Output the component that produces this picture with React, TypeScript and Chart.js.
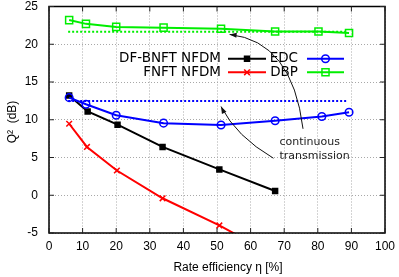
import React, { useEffect, useRef } from "react";
import { Chart, registerables } from "chart.js";
import { drawPoint } from "chart.js/helpers";

Chart.register(...registerables);

// ---- data ----
const dfX = [6, 11.5, 20.4, 33.8, 50.7, 67.3];
const dfY = [13.2, 11.1, 9.35, 6.4, 3.42, 0.57];
const fnftX = [6, 11.3, 20.2, 33.8, 50.7, 67.3];
const fnftY = [9.47, 6.4, 3.28, -0.4, -4.0, -8.0];
const edcX = [6, 11, 20, 34.1, 51.2, 67.3, 81.2, 89.3];
const edcY = [12.93, 12.05, 10.6, 9.55, 9.3, 9.87, 10.43, 11.0];
const dbpX = [6, 11, 20, 34.1, 51.2, 67.3, 80.2, 89.3];
const dbpY = [23.2, 22.7, 22.3, 22.2, 22.05, 21.7, 21.7, 21.5];
const contX = [5.7, 89];
const contEdcY = [12.5, 12.5];
const contDbpY = [21.66, 21.66];

const seriesLabels = ["DF-BNFT NFDM", "FNFT NFDM", "EDC", "DBP"];
const xTitle = "Rate efficiency η [%]";
const yTitle = "Q²  (dB)";
const noteLines = ["continuous", "transmission"];

const toPts = (xs: number[], ys: number[]) => xs.map((x, i) => ({ x, y: ys[i] }));

const BLACK = "#000000";
const RED = "#ff0000";
const BLUE = "#0000ff";
const GREEN = "#00ee00";

const markerDefs = [
  { color: BLACK, style: "rect", radius: 3.5, fill: BLACK },
  { color: RED, style: "crossRot", radius: 4, fill: "transparent" },
  { color: BLUE, style: "circle", radius: 3.8, fill: "transparent" },
  { color: GREEN, style: "rect", radius: 5, fill: "transparent" },
];

const framePlugin = {
  id: "frameAndNotes",
  afterDraw(chart: any) {
    const { ctx, chartArea: a, scales } = chart;
    const xs = scales.x;
    const ys = scales.y;
    ctx.save();
    // frame
    ctx.strokeStyle = "#000";
    ctx.lineWidth = 1.5;
    ctx.setLineDash([]);
    ctx.strokeRect(a.left, a.top, a.right - a.left, a.bottom - a.top);
    // inward ticks
    ctx.lineWidth = 1;
    ctx.strokeStyle = "#222";
    const tl = 5;
    xs.ticks.forEach((t: any) => {
      const px = xs.getPixelForValue(t.value);
      ctx.beginPath();
      ctx.moveTo(px, a.bottom);
      ctx.lineTo(px, a.bottom - tl);
      ctx.moveTo(px, a.top);
      ctx.lineTo(px, a.top + tl);
      ctx.stroke();
    });
    ys.ticks.forEach((t: any) => {
      const py = ys.getPixelForValue(t.value);
      ctx.beginPath();
      ctx.moveTo(a.left, py);
      ctx.lineTo(a.left + tl, py);
      ctx.moveTo(a.right, py);
      ctx.lineTo(a.right - tl, py);
      ctx.stroke();
    });

    // axis titles
    ctx.fillStyle = "#000";
    ctx.font = "12px 'Liberation Sans', Arial, sans-serif";
    ctx.textAlign = "center";
    ctx.textBaseline = "middle";
    ctx.fillText(xTitle, 228, 268);
    ctx.save();
    ctx.translate(13, 122);
    ctx.rotate(-Math.PI / 2);
    ctx.fillText(yTitle, 0, 0);
    ctx.restore();

    // legend (gnuplot style: two columns, text right-aligned before sample)
    ctx.font = "13.5px 'DejaVu Sans', sans-serif";
    ctx.textAlign = "right";
    ctx.textBaseline = "middle";
    const cols = [
      { textRight: 221, x0: 228, x1: 266 },
      { textRight: 298, x0: 307, x1: 344 },
    ];
    const rows = [58.7, 72.3];
    const order = [0, 2, 1, 3];
    order.forEach((si, k) => {
      const r = k < 2 ? 0 : 1;
      const c = k % 2;
      const col = cols[c];
      const y = rows[r];
      const m = markerDefs[si];
      ctx.fillStyle = "#000";
      ctx.fillText(seriesLabels[si], col.textRight, y);
      ctx.strokeStyle = m.color;
      ctx.lineWidth = 2;
      ctx.beginPath();
      ctx.moveTo(col.x0, y);
      ctx.lineTo(col.x1, y);
      ctx.stroke();
      ctx.fillStyle = m.fill;
      ctx.lineWidth = 1.5;
      drawPoint(ctx, { pointStyle: m.style, radius: m.radius, borderWidth: 1.5, rotation: 0 } as any, (col.x0 + col.x1) / 2, y);
    });

    // annotation arrows (data coords)
    const arrow = (sx: number, sy: number, cx: number, cy: number, tx: number, ty: number) => {
      const p0 = [xs.getPixelForValue(sx), ys.getPixelForValue(sy)];
      const pc = [xs.getPixelForValue(cx), ys.getPixelForValue(cy)];
      const p1 = [xs.getPixelForValue(tx), ys.getPixelForValue(ty)];
      ctx.strokeStyle = "#111";
      ctx.fillStyle = "#111";
      ctx.lineWidth = 1;
      ctx.beginPath();
      ctx.moveTo(p0[0], p0[1]);
      ctx.quadraticCurveTo(pc[0], pc[1], p1[0], p1[1]);
      ctx.stroke();
      const ang = Math.atan2(p1[1] - pc[1], p1[0] - pc[0]);
      const L = 7;
      const W = 2.5;
      ctx.beginPath();
      ctx.moveTo(p1[0], p1[1]);
      ctx.lineTo(p1[0] - L * Math.cos(ang) + W * Math.sin(ang), p1[1] - L * Math.sin(ang) - W * Math.cos(ang));
      ctx.lineTo(p1[0] - L * Math.cos(ang) - W * Math.sin(ang), p1[1] - L * Math.sin(ang) + W * Math.cos(ang));
      ctx.closePath();
      ctx.fill();
    };
    arrow(75.6, 8.8, 72.4, 20.4, 53.75, 21.3);
    arrow(66.8, 4.9, 55.7, 7.8, 51.2, 11.75);

    // note text
    ctx.fillStyle = "#222";
    ctx.font = "11px 'DejaVu Sans', sans-serif";
    ctx.textAlign = "left";
    ctx.textBaseline = "middle";
    ctx.fillText(noteLines[0], xs.getPixelForValue(68.6), ys.getPixelForValue(7.05));
    ctx.fillText(noteLines[1], xs.getPixelForValue(68.6), ys.getPixelForValue(5.2));
    ctx.restore();
  },
};

export default function App() {
  const ref = useRef<HTMLCanvasElement | null>(null);
  useEffect(() => {
    if (!ref.current) return;
    const mk = (i: number, xs: number[], ys: number[]) => ({
      label: seriesLabels[i],
      data: toPts(xs, ys),
      borderColor: markerDefs[i].color,
      backgroundColor: markerDefs[i].fill,
      pointBorderColor: markerDefs[i].color,
      pointBackgroundColor: markerDefs[i].fill,
      pointStyle: markerDefs[i].style,
      pointRadius: markerDefs[i].radius,
      pointBorderWidth: 1.5,
      borderWidth: 2,
      tension: 0,
      fill: false,
    });
    const dotted = (color: string, ys: number[]) => ({
      label: "continuous",
      data: toPts(contX, ys),
      borderColor: color,
      borderWidth: 2,
      borderDash: [2, 2],
      pointRadius: 0,
      fill: false,
    });
    const chart = new Chart(ref.current, {
      type: "line",
      data: {
        datasets: [
          dotted(BLUE, contEdcY),
          dotted(GREEN, contDbpY),
          mk(3, dbpX, dbpY),
          mk(2, edcX, edcY),
          mk(0, dfX, dfY),
          mk(1, fnftX, fnftY),
        ] as any,
      },
      options: {
        animation: false,
        responsive: true,
        maintainAspectRatio: false,
        layout: { padding: { top: 5, right: 14, left: 0, bottom: 0 } },
        plugins: { legend: { display: false }, tooltip: { enabled: false } },
        scales: {
          x: {
            type: "linear",
            min: 0,
            max: 100,
            ticks: {
              stepSize: 10,
              padding: 6,
              color: "#000",
              font: { family: "'Liberation Sans', Arial, sans-serif", size: 12 },
            },
            grid: { color: "#a8a8a8", lineWidth: 1, drawTicks: false },
            border: { display: false, dash: [1, 2] },
            afterFit: (s: any) => {
              s.height = 44;
              s.paddingLeft = 0;
              s.paddingRight = 0;
            },
          },
          y: {
            type: "linear",
            min: -5,
            max: 25,
            ticks: {
              stepSize: 5,
              padding: 11,
              color: "#000",
              font: { family: "'Liberation Sans', Arial, sans-serif", size: 12 },
            },
            grid: { color: "#a8a8a8", lineWidth: 1, drawTicks: false },
            border: { display: false, dash: [1, 2] },
            afterFit: (s: any) => {
              s.width = 49;
              s.paddingTop = 0;
              s.paddingBottom = 0;
            },
          },
        },
      } as any,
      plugins: [framePlugin],
    });
    return () => chart.destroy();
  }, []);
  return (
    <div style={{ position: "absolute", left: 0, top: 0, width: 399, height: 277 }}>
      <canvas ref={ref} />
    </div>
  );
}
